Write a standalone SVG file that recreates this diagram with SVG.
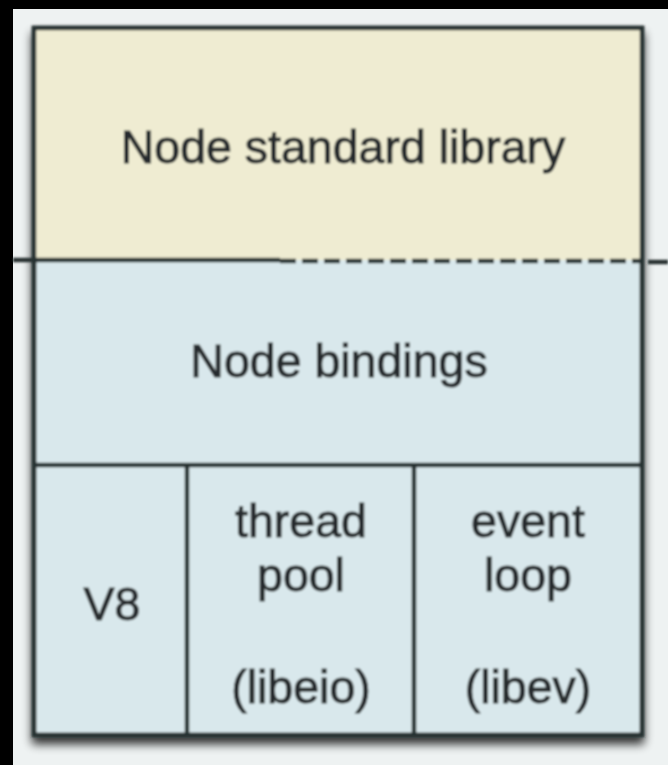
<svg xmlns="http://www.w3.org/2000/svg" width="668" height="765" viewBox="0 0 668 765">
  <defs>
    <filter id="shadow" x="-10%" y="-10%" width="120%" height="120%">
      <feGaussianBlur in="SourceAlpha" stdDeviation="5"/>
      <feOffset dx="0" dy="7" result="b"/>
      <feComponentTransfer><feFuncA type="linear" slope="0.8"/></feComponentTransfer>
      <feMerge><feMergeNode/><feMergeNode in="SourceGraphic"/></feMerge>
    </filter>
    <filter id="soft"><feGaussianBlur stdDeviation="0.8"/></filter>
  </defs>
  <style>
    .lbl { font-family: "Liberation Sans", Arial, sans-serif; font-size: 46.5px; fill: #272c2d; stroke: #272c2d; stroke-width: 1; text-anchor: middle; }
    .ln { stroke: #283232; stroke-width: 4.5; fill: none; }
  </style>
  <rect x="0" y="0" width="668" height="765" fill="#000"/>
  <rect x="13" y="9" width="655" height="756" fill="#eef2f2"/>
  <g filter="url(#soft)">
    <rect x="34" y="28" width="608" height="707" fill="#d9e8ec" stroke="#283232" stroke-width="4.5" filter="url(#shadow)"/>
    <g id="stdlib">
      <rect x="36" y="30" width="604" height="230" fill="#efecd2"/>
      <text class="lbl" x="343" y="163">Node standard library</text>
    </g>
    <g id="bindings">
      <text class="lbl" x="339" y="377">Node bindings</text>
    </g>
    <g id="v8">
      <text class="lbl" x="112" y="620">V8</text>
    </g>
    <g id="threadpool">
      <text class="lbl" x="301" y="537">thread</text>
      <text class="lbl" x="301" y="591">pool</text>
      <text class="lbl" x="301" y="703">(libeio)</text>
    </g>
    <g id="eventloop">
      <text class="lbl" x="528" y="537">event</text>
      <text class="lbl" x="528" y="591">loop</text>
      <text class="lbl" x="528" y="703">(libev)</text>
    </g>
    <g id="connectors">
      <line class="ln" x1="13" y1="260" x2="280" y2="260"/>
      <line class="ln" x1="280" y1="261" x2="642" y2="261" stroke-dasharray="16 6"/>
      <line class="ln" x1="648" y1="262" x2="668" y2="262" stroke-width="3"/>
      <rect x="34" y="28" width="608" height="707" class="ln"/>
      <line class="ln" x1="34" y1="465" x2="642" y2="465"/>
      <line class="ln" x1="187" y1="465" x2="187" y2="735"/>
      <line class="ln" x1="414" y1="465" x2="414" y2="735"/>
    </g>
  </g>
</svg>
